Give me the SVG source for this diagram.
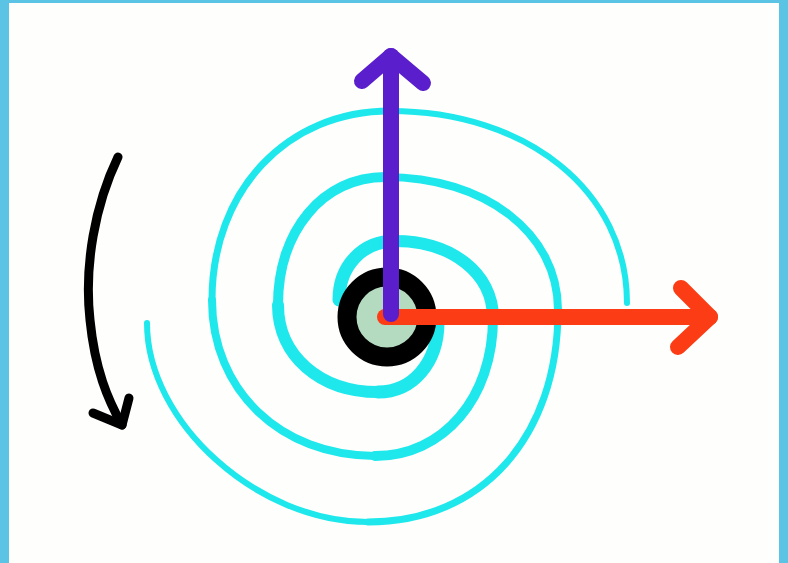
<svg xmlns="http://www.w3.org/2000/svg" width="788" height="563" viewBox="0 0 788 563">
<style>
.sp{fill:none;stroke:#1ee8ec;stroke-linecap:round;stroke-linejoin:round}
.ar{fill:none;stroke-linecap:round;stroke-linejoin:round}
</style>
<rect x="0" y="0" width="788" height="563" fill="#5bc4e4"/>
<rect x="9" y="3" width="770" height="560" fill="#fefefc"/>
<g id="spiral">
<path class="sp" stroke-width="13" d="M339,300 C339,265.8 362.5,241 395,241"/>
<path class="sp" stroke-width="12" d="M395,241 C451.8,241 493,273.3 493,318"/>
<path class="sp" stroke-width="10" d="M493,318 C493,398 443.4,456 375,456"/>
<path class="sp" stroke-width="8" d="M375,456 C280.5,456 212,390.5 212,300"/>
<path class="sp" stroke-width="7" d="M212,300 C212,190.4 286.8,111 390,111"/>
<path class="sp" stroke-width="6" d="M390,111 C527.5,111 627,191.6 627,303"/>
<path class="sp" stroke-width="13" d="M438,322 C438,362.6 412.8,392 378,392"/>
<path class="sp" stroke-width="12" d="M378,392 C320,392 278,355.5 278,305"/>
<path class="sp" stroke-width="10" d="M278,305 C278,230.8 322.9,177 385,177"/>
<path class="sp" stroke-width="8" d="M385,177 C485.3,177 558,232.9 558,310"/>
<path class="sp" stroke-width="7" d="M558,310 C558,437 482,522 368,522"/>
<path class="sp" stroke-width="6" d="M368,522 C257.5,522 147,422.5 147,323"/>
</g>
<g id="center">
<circle cx="387" cy="317" r="40" fill="#b4dabf" stroke="#000" stroke-width="19"/>
</g>
<g id="connectors">
<g id="x-axis" stroke="#fb3c14">
<path class="ar" stroke-width="16" d="M385,317 L710,317"/>
<path class="ar" stroke-width="16" d="M681,288 L710,317 L678,347"/>
</g>
<g id="y-axis" stroke="#5a1ecc">
<path class="ar" stroke-width="16" d="M391,314 L391,56"/>
<path class="ar" stroke-width="16" d="M362,81 L391,56 L423,83"/>
</g>
<g id="rotation" stroke="#000">
<path class="ar" stroke-width="9" d="M118,157 C95,205 84,265 90,320 C95,370 108,400 122,425"/>
<path class="ar" stroke-width="9" d="M93,413 L122,425 L129,398"/>
</g>
</g>
</svg>
